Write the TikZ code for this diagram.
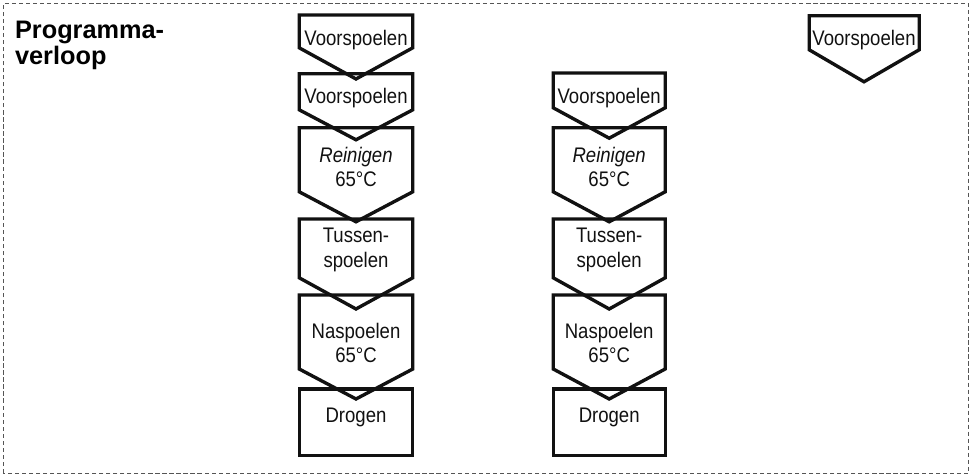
\documentclass[tikz,border=0pt]{standalone}
\usepackage{fontspec}
\setmainfont{Liberation Sans}
\newfontfamily\stapfont[FakeStretch=0.88]{Liberation Sans}
\usepackage{xcolor}
\usepackage{tikz}
\definecolor{PVInk}{HTML}{111111}
\definecolor{PVFrame}{HTML}{555555}
\tikzset{
  stapvak/.style={PVInk,line width=2.4pt,line join=miter},
  staptekst/.style={PVInk,align=center,inner sep=0pt,font=\stapfont\fontsize{15}{17.5}\selectfont}
}

\begin{document}
\begin{tikzpicture}[x=1cm,y=1cm]
\path[use as bounding box] (0,0) rectangle (24.30,11.875);
\draw[PVFrame,densely dashed,line width=0.5pt] (0.08,0.05) rectangle (24.22,11.78);
\node[anchor=north west,align=left,inner sep=0pt,font=\fontsize{18}{19}\selectfont\bfseries] (titel) at (0.37,11.36) {Programma-\\verloop};
% linker kolom
\draw[stapvak] (7.48,11.50) -- (10.32,11.50) -- (10.32,10.68) -- (8.90,9.90) -- (7.48,10.68) -- cycle;
\node[staptekst] (voorA1) at (8.90,10.88) {Voorspoelen};
\draw[stapvak] (7.48,10.03) -- (10.32,10.03) -- (10.32,9.13) -- (8.90,8.38) -- (7.48,9.13) -- cycle;
\node[staptekst] (voorA2) at (8.90,9.43) {Voorspoelen};
\draw[stapvak] (7.48,8.68) -- (10.32,8.68) -- (10.32,7.08) -- (8.90,6.33) -- (7.48,7.08) -- cycle;
\node[staptekst] (reinA) at (8.90,7.70) {\itshape Reinigen\\65°C};
\draw[stapvak] (7.48,6.40) -- (10.32,6.40) -- (10.32,4.93) -- (8.90,4.15) -- (7.48,4.93) -- cycle;
\node[staptekst] (tussA) at (8.90,5.63) {Tussen-\\spoelen};
\draw[stapvak] (7.48,4.50) -- (10.32,4.50) -- (10.32,2.65) -- (8.90,1.90) -- (7.48,2.65) -- cycle;
\node[staptekst] (naA) at (8.90,3.30) {Naspoelen\\65°C};
\draw[stapvak] (7.48,2.15) rectangle (10.32,0.48);
\node[staptekst] (drogA) at (8.90,1.45) {Drogen};
% middelste kolom
\draw[stapvak] (13.83,10.05) -- (16.63,10.05) -- (16.63,9.18) -- (15.23,8.42) -- (13.83,9.18) -- cycle;
\node[staptekst] (voorB) at (15.23,9.43) {Voorspoelen};
\draw[stapvak] (13.83,8.68) -- (16.63,8.68) -- (16.63,7.08) -- (15.23,6.33) -- (13.83,7.08) -- cycle;
\node[staptekst] (reinB) at (15.23,7.70) {\itshape Reinigen\\65°C};
\draw[stapvak] (13.83,6.40) -- (16.63,6.40) -- (16.63,4.93) -- (15.23,4.15) -- (13.83,4.93) -- cycle;
\node[staptekst] (tussB) at (15.23,5.63) {Tussen-\\spoelen};
\draw[stapvak] (13.83,4.50) -- (16.63,4.50) -- (16.63,2.65) -- (15.23,1.90) -- (13.83,2.65) -- cycle;
\node[staptekst] (naB) at (15.23,3.30) {Naspoelen\\65°C};
\draw[stapvak] (13.83,2.15) rectangle (16.63,0.48);
\node[staptekst] (drogB) at (15.23,1.45) {Drogen};
% rechter kolom
\draw[stapvak] (20.23,11.48) -- (22.98,11.48) -- (22.98,10.63) -- (21.60,9.83) -- (20.23,10.63) -- cycle;
\node[staptekst] (voorC) at (21.60,10.88) {Voorspoelen};
\end{tikzpicture}
\end{document}
